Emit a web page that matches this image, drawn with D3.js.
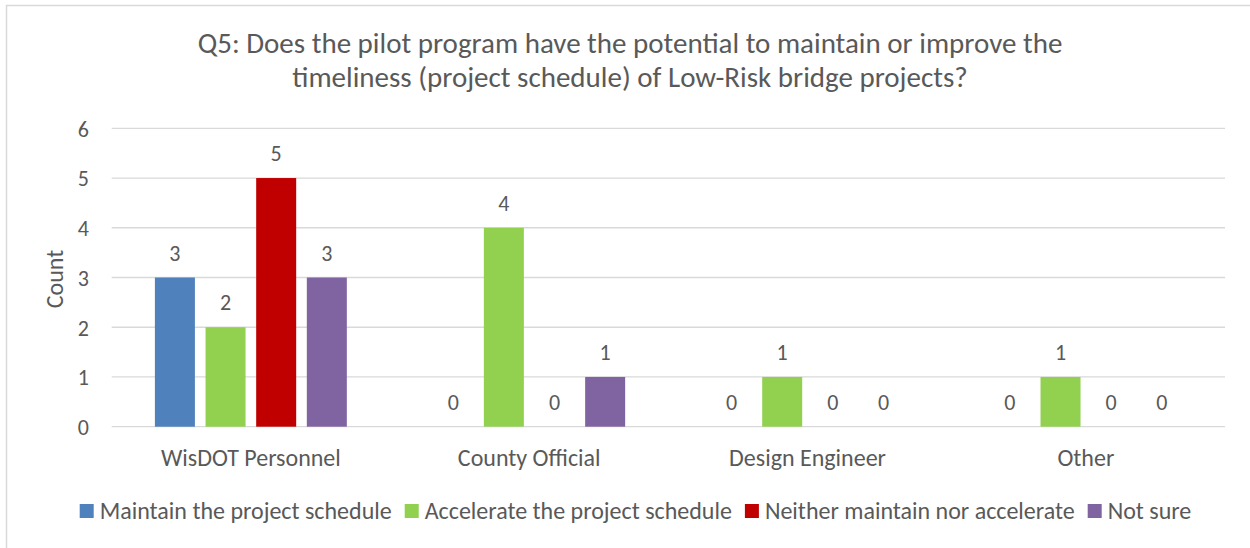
<!DOCTYPE html>
<html>
<head>
<meta charset="utf-8">
<script src="https://cdn.jsdelivr.net/npm/d3@7"></script>
<style>
  body { margin: 0; background: #fff; }
  svg text { font-family: Carlito, Calibri, Lato, "Open Sans", sans-serif; fill: #595959; }
</style>
</head>
<body>
<div id="chart"></div>
<script>
// chart data
var categories = ["WisDOT Personnel", "County Official", "Design Engineer", "Other"];
var seriesNames = ["Maintain the project schedule", "Accelerate the project schedule", "Neither maintain nor accelerate", "Not sure"];
var seriesColors = ["#4F81BD", "#92D050", "#C00000", "#8064A2"];
var maintainVals = [3, 0, 0, 0];
var accelerateVals = [2, 4, 1, 1];
var neitherVals = [5, 0, 0, 0];
var notSureVals = [3, 1, 0, 0];
var yTicks = [0, 1, 2, 3, 4, 5, 6];
var titleLines = ["Q5: Does the pilot program have the potential to maintain or improve the",
	"timeliness (project schedule) of Low-Risk bridge projects?"];
var yTitle = "Count";

var allVals = [maintainVals, accelerateVals, neitherVals, notSureVals];

var width = 1250, height = 548;
var plotLeft = 111.7, plotRight = 1225, plotTop = 128.3, plotBottom = 426.7;
var labelSize = "24px";

var svg = d3.select("#chart").append("svg")
	.attr("width", width)
	.attr("height", height);

// outer chart border (only top/left are visible in the picture)
svg.append("rect")
	.attr("x", 6.5).attr("y", 5.5)
	.attr("width", 1260).attr("height", 560)
	.attr("fill", "none")
	.attr("stroke", "#D9D9D9")
	.attr("stroke-width", 1.5);

var x0 = d3.scaleBand().domain(categories).range([plotLeft, plotRight]).padding(0);
var x1 = d3.scaleBand().domain(seriesNames)
	.range([43.2, x0.bandwidth() - 43.2])
	.paddingInner(0.21);
var y = d3.scaleLinear().domain([0, 6]).range([plotBottom, plotTop]);

// gridlines
svg.append("g").selectAll("line")
	.data(yTicks)
	.enter().append("line")
	.attr("x1", plotLeft).attr("x2", plotRight)
	.attr("y1", function (d) { return y(d); })
	.attr("y2", function (d) { return y(d); })
	.attr("stroke", "#D9D9D9")
	.attr("stroke-width", 1.3);

// y axis labels
var yAxis = d3.axisLeft(y).tickValues(yTicks).tickFormat(d3.format("d")).tickSize(0).tickPadding(0);
var yg = svg.append("g").attr("transform", "translate(89,0)").call(yAxis);
yg.select(".domain").remove();
yg.selectAll("text")
	.style("font-size", "22px")
	.attr("dy", "0.36em");

// x axis labels
var xAxis = d3.axisBottom(x0).tickSize(0).tickPadding(0);
var xg = svg.append("g").attr("transform", "translate(0,466)").call(xAxis);
xg.select(".domain").remove();
xg.selectAll("text")
	.style("font-size", labelSize)
	.attr("dy", "0");

// y title
svg.append("text")
	.attr("transform", "translate(63,279) rotate(-90)")
	.attr("text-anchor", "middle")
	.style("font-size", labelSize)
	.text(yTitle);

// title
svg.append("g").selectAll("text")
	.data(titleLines)
	.enter().append("text")
	.attr("x", 630)
	.attr("y", function (d, i) { return 53 + i * 34; })
	.attr("text-anchor", "middle")
	.style("font-size", "29px")
	.text(function (d) { return d; });

// bars
var groups = svg.append("g").selectAll("g")
	.data(categories)
	.enter().append("g")
	.attr("transform", function (d) { return "translate(" + x0(d) + ",0)"; });

var cells = groups.selectAll("g")
	.data(function (c, ci) {
		return seriesNames.map(function (s, si) {
			return { series: s, color: seriesColors[si], value: allVals[si][ci] };
		});
	})
	.enter().append("g");

cells.filter(function (d) { return d.value > 0; })
	.append("rect")
	.attr("x", function (d) { return x1(d.series); })
	.attr("y", function (d) { return y(d.value); })
	.attr("width", x1.bandwidth())
	.attr("height", function (d) { return y(0) - y(d.value); })
	.attr("fill", function (d) { return d.color; });

cells.append("text")
	.attr("x", function (d) { return x1(d.series) + x1.bandwidth() / 2; })
	.attr("y", function (d) { return y(d.value) - 17; })
	.attr("text-anchor", "middle")
	.style("font-size", "22px")
	.text(function (d) { return d.value; });

// legend
var legend = svg.append("g");
var items = legend.selectAll("g")
	.data(seriesNames)
	.enter().append("g");
items.append("rect")
	.attr("width", 14).attr("height", 14)
	.attr("y", 504)
	.attr("fill", function (d, i) { return seriesColors[i]; });
items.append("text")
	.attr("x", 20)
	.attr("y", 519)
	.style("font-size", labelSize)
	.text(function (d) { return d; });

var xs = [], pos = 0;
items.each(function () {
	var w = d3.select(this).select("text").node().getComputedTextLength();
	xs.push(pos);
	pos += 20 + w + 13;
});
var total = pos - 13;
var start = 635.5 - total / 2;
items.attr("transform", function (d, i) { return "translate(" + (start + xs[i]) + ",0)"; });
</script>
</body>
</html>
